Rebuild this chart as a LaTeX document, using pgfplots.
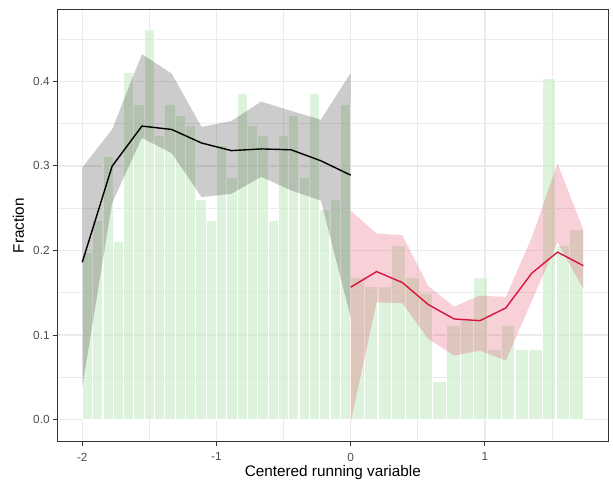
\documentclass[border=0pt]{standalone}
\usepackage{pgfplots}
\usepackage{pgfplotstable}
\pgfplotsset{compat=1.18}
\usepackage{fontspec}
\setmainfont{Liberation Sans}

\definecolor{grey20}{RGB}{51,51,51}
\definecolor{grey30}{RGB}{77,77,77}
\definecolor{grey92}{RGB}{235,235,235}
\definecolor{barfill}{RGB}{200,235,195}
\definecolor{fitred}{RGB}{220,20,60}

% share of observations per bin, below the cutoff (left edge of each bin; last row closes the interval)
\pgfplotstableread{
x y
-2.00000 0.198
-1.92308 0.235
-1.84615 0.311
-1.76923 0.211
-1.69231 0.410
-1.61538 0.373
-1.53846 0.461
-1.46154 0.336
-1.38462 0.373
-1.30769 0.360
-1.23077 0.348
-1.15385 0.260
-1.07692 0.235
-1.00000 0.324
-0.92308 0.286
-0.84615 0.386
-0.76923 0.348
-0.69231 0.336
-0.61538 0.235
-0.53846 0.336
-0.46154 0.360
-0.38462 0.286
-0.30769 0.386
-0.23077 0.249
-0.15385 0.260
-0.07692 0.373
 0.00000 0.373
}\binsbelow

% share of observations per bin, above the cutoff
\pgfplotstableread{
x y
0.00000 0.168
0.10196 0.158
0.20392 0.158
0.30588 0.206
0.40784 0.168
0.50980 0.149
0.61176 0.045
0.71373 0.111
0.81569 0.120
0.91765 0.168
1.01961 0.083
1.12157 0.111
1.22353 0.083
1.32549 0.083
1.42745 0.403
1.52941 0.206
1.63137 0.2245
1.73333 0.2245
}\binsabove

% local fit below the cutoff
\pgfplotstableread{
x fit
-2.00000 0.186
-1.77778 0.2995
-1.55556 0.347
-1.33333 0.343
-1.11111 0.327
-0.88889 0.318
-0.66667 0.320
-0.44444 0.319
-0.22222 0.306
 0.00000 0.289
}\fitbelow

% local fit above the cutoff
\pgfplotstableread{
x fit
0.00000 0.1565
0.19259 0.175
0.38519 0.162
0.57778 0.136
0.77037 0.119
0.96296 0.117
1.15556 0.132
1.34815 0.173
1.54074 0.198
1.73333 0.182
}\fitabove

\begin{document}
\begin{tikzpicture}
\useasboundingbox (0pt,0pt) rectangle (613pt,485pt);
\begin{axis}[
  at={(57.2pt,43.2pt)}, anchor=south west,
  scale only axis, width=551.2pt, height=432.2pt,
  xmin=-2.18667, xmax=1.92, ymin=-0.0262, ymax=0.4847,
  xtick={-2,-1,0,1}, xticklabels={-2,-1,0,1},
  ytick={0,0.1,0.2,0.3,0.4}, yticklabels={0.0,0.1,0.2,0.3,0.4},
  minor xtick={-1.5,-0.5,0.5,1.5},
  minor ytick={0.05,0.15,0.25,0.35,0.45},
  grid=both,
  major grid style={grey92, line width=1.4pt},
  minor grid style={grey92, line width=0.7pt},
  minor tick length=0pt,
  major tick length=3.8pt,
  tick align=outside, tick pos=left,
  tick style={grey20, line width=0.9pt},
  axis line style={grey20, line width=0.9pt},
  ticklabel style={font=\fontsize{11.8}{14}\selectfont, text=grey30, inner sep=0pt},
  xticklabel style={yshift=-7pt},
  yticklabel style={xshift=-3.6pt},
  every axis x label/.style={at={(axis description cs:0.5,-0.0705)}, anchor=center,
    inner sep=0pt, font=\fontsize{15.3}{18}\selectfont},
  every axis y label/.style={at={(axis description cs:-0.0705,0.5)}, anchor=center,
    rotate=90, inner sep=0pt, font=\fontsize{15.3}{18}\selectfont},
  xlabel={Centered running variable},
  ylabel={Fraction},
]
% histogram bins
\addplot[ybar interval, fill=barfill, fill opacity=0.6, draw=white, line width=1.2pt]
  table[x=x, y=y] {\binsbelow};
\addplot[ybar interval, fill=barfill, fill opacity=0.6, draw=white, line width=1.2pt]
  table[x=x, y=y] {\binsabove};

% confidence bands
\addplot[draw=none, fill=black, fill opacity=0.2] coordinates {
  (-2.00000,0.298) (-1.77778,0.343) (-1.55556,0.432) (-1.33333,0.409)
  (-1.11111,0.346) (-0.88889,0.353) (-0.66667,0.376) (-0.44444,0.365)
  (-0.22222,0.3545) (0.00000,0.410)
  (0.00000,0.121) (-0.22222,0.259) (-0.44444,0.271) (-0.66667,0.287)
  (-0.88889,0.267) (-1.11111,0.263) (-1.33333,0.315) (-1.55556,0.333)
  (-1.77778,0.256) (-2.00000,0.038)
} -- cycle;
\addplot[draw=none, fill=fitred, fill opacity=0.2] coordinates {
  (0.00000,0.247) (0.19259,0.220) (0.38519,0.218) (0.57778,0.158)
  (0.77037,0.1336) (0.96296,0.1466) (1.15556,0.145) (1.34815,0.215)
  (1.54074,0.303) (1.73333,0.2245)
  (1.73333,0.1545) (1.54074,0.2096) (1.34815,0.140) (1.15556,0.0697)
  (0.96296,0.0816) (0.77037,0.0757) (0.57778,0.0954) (0.38519,0.1375)
  (0.19259,0.1387) (0.00000,-0.003)
} -- cycle;

% fitted lines
\addplot[black, line width=1.4pt] table[x=x, y=fit] {\fitbelow};
\addplot[fitred, line width=1.4pt] table[x=x, y=fit] {\fitabove};
\end{axis}
\end{tikzpicture}
\end{document}
